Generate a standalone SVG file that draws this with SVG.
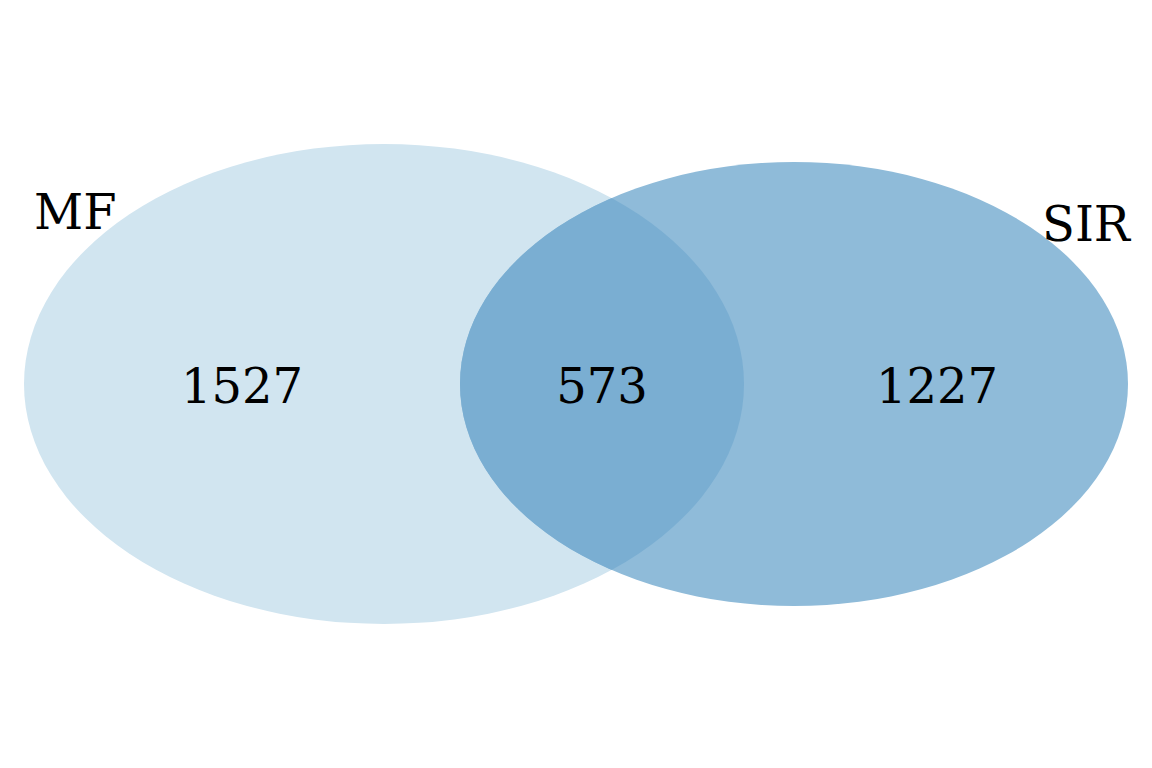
<svg xmlns="http://www.w3.org/2000/svg" width="1152" height="768" viewBox="0 0 1152 768">
<style>
text{font-family:"DejaVu Serif","Liberation Serif",serif;fill:#000;}
.num{font-size:48px;text-anchor:middle;}
.lab{font-size:48px;}
</style>
<defs>
<clipPath id="clipMF"><ellipse cx="384" cy="384" rx="360" ry="240"/></clipPath>
</defs>
<rect width="1152" height="768" fill="#fff"/>
<g id="set-MF"><ellipse cx="384" cy="384" rx="360" ry="240" fill="#d1e5f0"/></g>
<g id="set-SIR"><ellipse cx="794" cy="384" rx="334" ry="222" fill="#8fbbd9"/></g>
<g id="overlap"><ellipse cx="794" cy="384" rx="334" ry="222" fill="#7aaed2" clip-path="url(#clipMF)"/></g>
<g id="connectors"/>
<g id="labels">
<text class="lab" x="34" y="229">MF</text>
<text class="lab" x="1042" y="241">SIR</text>
<text class="num" x="242" y="403">1527</text>
<text class="num" x="602" y="403">573</text>
<text class="num" x="937" y="403">1227</text>
</g>
</svg>
